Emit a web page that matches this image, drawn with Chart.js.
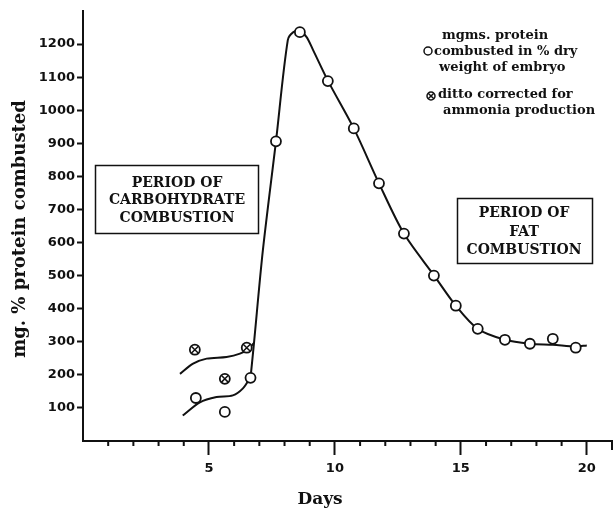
<!DOCTYPE html>
<html>
<head>
<meta charset="utf-8">
<script src="https://cdn.jsdelivr.net/npm/chart.js@4.4.1/dist/chart.umd.min.js"></script>
<style>
  html, body { margin: 0; padding: 0; background: #fff; }
  canvas { display: block; }
</style>
</head>
<body>
<canvas id="chart" width="614" height="513"></canvas>
<script>
// open circles: mgms. protein combusted in % dry weight of embryo
const proteinDays = [4.48, 5.63, 6.65, 7.66, 8.61, 9.72, 10.75, 11.75, 12.74, 13.93, 14.8, 15.67, 16.75, 17.74, 18.65, 19.56]
const proteinValues = [130, 88, 191, 906, 1236, 1088, 945, 779, 627, 500, 409, 339, 306, 294, 309, 282]

// crossed circles: ditto corrected for ammonia production
const correctedDays = [4.44, 5.63, 6.5]
const correctedValues = [276, 188, 282]

// hand drawn curves
const mainCurveDays = [6.65, 6.78, 7.14, 7.66, 8.13, 8.35, 8.61, 8.87, 9.14, 9.73, 10.75, 11.75, 12.74, 13.94, 14.8, 15.67, 16.75, 17.74, 18.65, 19.56, 20.0]
const mainCurveValues = [191, 290, 576, 906, 1212, 1236, 1238, 1222, 1181, 1088, 945, 779, 627, 500, 409, 339, 306, 294, 291, 286, 289]
const lowerCurveDays = [3.96, 4.64, 5.3, 5.95, 6.35, 6.65]
const lowerCurveValues = [77, 117, 133, 138, 159, 193]
const upperCurveDays = [3.85, 4.37, 4.91, 5.7, 6.23, 6.56, 6.78]
const upperCurveValues = [203, 234, 249, 254, 264, 278, 296]

// axes
const xTicks = [1, 2, 3, 4, 5, 6, 7, 8, 9, 10, 11, 12, 13, 14, 15, 16, 17, 18, 19, 20, 21]
const xLabelTicks = [5, 10, 15, 20]
const yTicks = [100, 200, 300, 400, 500, 600, 700, 800, 900, 1000, 1100, 1200]

const INK = '#111'
const SERIF = "'DejaVu Serif', serif"
const SANS = "'DejaVu Sans', sans-serif"

const pts = (xs, ys) => xs.map((x, i) => ({ x: x, y: ys[i] }))

const curveStyle = {
  showLine: true,
  borderColor: INK,
  borderWidth: 2,
  pointRadius: 0,
  tension: 0.3,
  fill: false
}

// text boxes, legend and axis titles
const notes = {
  id: 'notes',
  afterDraw: (chart) => {
    const ctx = chart.ctx
    const area = chart.chartArea
    ctx.save()
    ctx.fillStyle = INK
    ctx.strokeStyle = INK

    // y title
    ctx.save()
    ctx.translate(20, 229)
    ctx.rotate(-Math.PI / 2)
    ctx.font = "bold 18px " + SERIF
    ctx.textAlign = 'center'
    ctx.textBaseline = 'middle'
    ctx.fillText('mg. % protein combusted', 0, 0)
    ctx.restore()

    // x title
    ctx.font = "bold 17px " + SERIF
    ctx.textAlign = 'center'
    ctx.textBaseline = 'middle'
    ctx.fillText('Days', 320, 500)

    // period boxes
    ctx.lineWidth = 1.5
    ctx.strokeRect(95.5, 165.5, 163, 68)
    ctx.strokeRect(457.5, 198.5, 135, 65)
    ctx.font = "bold 14px " + SERIF
    ctx.fillText('PERIOD OF', 177, 183)
    ctx.fillText('CARBOHYDRATE', 177, 200)
    ctx.fillText('COMBUSTION', 177, 218)
    ctx.fillText('PERIOD OF', 524, 213)
    ctx.fillText('FAT', 524, 232)
    ctx.fillText('COMBUSTION', 524, 250)

    // legend
    ctx.textAlign = 'left'
    ctx.font = "bold 13px " + SERIF
    ctx.fillText('mgms. protein', 442, 36)
    ctx.fillText('combusted in % dry', 434, 52)
    ctx.fillText('weight of embryo', 439, 68)
    ctx.fillText('ditto corrected for', 438, 95)
    ctx.fillText('ammonia production', 443, 111)

    const circ = { pointStyle: 'circle', radius: 4, borderWidth: 1.5, rotation: 0 }
    ctx.fillStyle = '#fff'
    ctx.lineWidth = 1.5
    Chart.helpers.drawPoint(ctx, circ, 428, 51)
    Chart.helpers.drawPoint(ctx, circ, 431, 96)
    Chart.helpers.drawPoint(ctx, { pointStyle: 'crossRot', radius: 4, borderWidth: 1.5, rotation: 0 }, 431, 96)

    // short ticks on the days axis (minor days and the axis end)
    const xs = chart.scales.x
    ctx.lineWidth = 2
    ctx.beginPath()
    xTicks.forEach(v => {
      if (xLabelTicks.includes(v)) return
      const px = Math.min(xs.getPixelForValue(v), chart.width - 2)
      const len = v === xs.max ? 9 : 5
      ctx.moveTo(px, area.bottom)
      ctx.lineTo(px, area.bottom + len)
    })
    ctx.stroke()
    ctx.restore()
  }
}

new Chart(document.getElementById('chart'), {
  type: 'scatter',
  data: {
    datasets: [
      {
        label: 'corrected cross',
        data: pts(correctedDays, correctedValues),
        pointStyle: 'crossRot',
        pointRadius: 5,
        pointBorderColor: INK,
        pointBorderWidth: 1.5
      },
      {
        label: 'ditto corrected for ammonia production',
        data: pts(correctedDays, correctedValues),
        pointStyle: 'circle',
        pointRadius: 5,
        pointBackgroundColor: '#fff',
        pointBorderColor: INK,
        pointBorderWidth: 1.8
      },
      {
        label: 'mgms. protein combusted',
        data: pts(proteinDays, proteinValues),
        pointStyle: 'circle',
        pointRadius: 5,
        pointBackgroundColor: '#fff',
        pointBorderColor: INK,
        pointBorderWidth: 1.8
      },
      Object.assign({ label: 'main curve', data: pts(mainCurveDays, mainCurveValues) }, curveStyle),
      Object.assign({ label: 'lower curve', data: pts(lowerCurveDays, lowerCurveValues) }, curveStyle),
      Object.assign({ label: 'upper curve', data: pts(upperCurveDays, upperCurveValues) }, curveStyle)
    ]
  },
  options: {
    responsive: false,
    animation: false,
    layout: { autoPadding: false, padding: { top: 11, right: 2, left: 0, bottom: 0 } },
    plugins: {
      legend: { display: false },
      tooltip: { enabled: false }
    },
    scales: {
      x: {
        type: 'linear',
        min: 0,
        max: 21,
        afterBuildTicks: (s) => { s.ticks = xTicks.map(v => ({ value: v })) },
        afterFit: (s) => {
          s.height = 72
          s.paddingLeft = 0
          s.paddingRight = 0
        },
        ticks: {
          autoSkip: false,
          maxRotation: 0,
          padding: 6,
          color: INK,
          font: { family: SANS, size: 13, weight: 'bold' },
          callback: (v) => xLabelTicks.includes(v) ? String(v) : ''
        },
        grid: {
          drawOnChartArea: false,
          drawTicks: true,
          tickLength: 14,
          tickWidth: 2,
          tickColor: (c) => (c.tick && xLabelTicks.includes(c.tick.value)) ? INK : 'rgba(0,0,0,0)'
        },
        border: { color: INK, width: 2 }
      },
      y: {
        type: 'linear',
        min: 0,
        max: 1300,
        afterBuildTicks: (s) => { s.ticks = yTicks.map(v => ({ value: v })) },
        afterFit: (s) => { s.width = 83 },
        ticks: {
          padding: 2,
          color: INK,
          font: { family: SANS, size: 13, weight: 'bold' },
          callback: (v) => String(v)
        },
        grid: {
          drawOnChartArea: false,
          drawTicks: true,
          tickLength: 6,
          tickWidth: 2,
          tickColor: INK
        },
        border: { color: INK, width: 2 }
      }
    }
  },
  plugins: [notes]
})
</script>
</body>
</html>
